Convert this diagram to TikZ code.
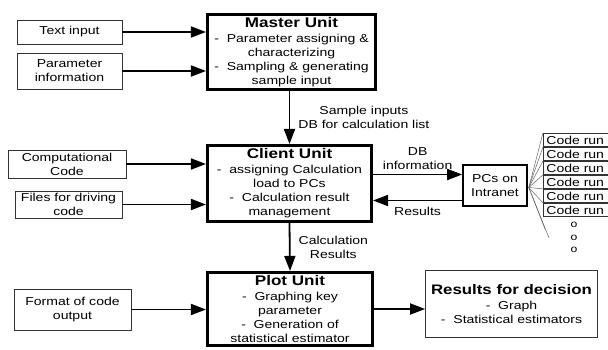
\documentclass[tikz,border=0pt]{standalone}
\usepackage{fontspec}
\setmainfont{Liberation Sans}[FakeStretch=1.22]
\usepackage{tikz}
\usetikzlibrary{arrows.meta}

\newcommand{\utitle}[1]{{\fontsize{14}{14}\selectfont\bfseries #1}}

\begin{document}
\begin{tikzpicture}[x=1pt,y=-1pt,font=\fontsize{11.5}{14}\selectfont]
				\useasboundingbox (0,0) rectangle (608,350);
				% input boxes and small boxes
				\begin{scope}[every node/.style={draw=black!80,line width=0.8pt,align=center,inner sep=1pt}]
					\node[minimum width=105pt,minimum height=24pt] (txtin) at (69.5,32) {Text input};
					\node[minimum width=105pt,minimum height=36pt] (param) at (69.5,71) {Parameter\\information};
					\node[minimum width=118pt,minimum height=28pt] (comp) at (67,164) {Computational\\Code};
					\node[minimum width=107pt,minimum height=27pt] (files) at (68.5,204.5) {Files for driving\\code};
					\node[minimum width=117pt,minimum height=41pt] (fmt) at (72.5,309.5) {Format of code\\output};
					\node[minimum width=172pt,minimum height=67pt] (res) at (511.5,304) {{\fontsize{13.8}{14}\selectfont\bfseries Results for decision}\\[1pt]-\ \ Graph\\-\ \ Statistical estimators};
					\node[draw=black,line width=1.6pt,minimum width=64pt,minimum height=41pt] (pcs) at (495,185.5) {PCs on\\Intranet};
				\end{scope}
				
				% the three units
				\begin{scope}[every node/.style={draw,line width=2.6pt,align=center,inner sep=1pt}]
					\node[minimum width=168.5pt,minimum height=75.5pt] (master) at (291.5,52) {\utitle{Master Unit}\\[1pt]-\ \ Parameter assigning \&\\characterizing\\-\ \ Sampling \& generating\\sample input};
					\node[minimum width=164.5pt,minimum height=76.5pt] (client) at (289.5,183.5) {\utitle{Client Unit}\\[1pt]-\ \ assigning Calculation\\load to PCs\\-\ \ Calculation result\\management};
					\node[minimum width=165.5pt,minimum height=73.5pt] (plot) at (290,309) {\utitle{Plot Unit}\\[1pt]-\ \ Graphing key\\parameter\\-\ \ Generation of\\statistical estimator};
				\end{scope}
				
				% code runs
				\begin{scope}[every node/.style={draw=black!80,line width=0.8pt,anchor=west,inner ysep=0pt,inner xsep=3pt,text width=66pt,align=left,minimum height=13.5pt}]
					\foreach \i in {1,...,6}
						\node (run\i) at (543,126+14*\i) {Code run};
				\end{scope}
				\coordinate (hub) at ([xshift=1pt,yshift=-2pt]pcs.east);
				\coordinate (tail1) at (545,229);
				\coordinate (tail2) at (549,238);
				\foreach \i in {1,...,6}
					\draw[black!60,line width=0.5pt] (hub) -- (run\i.north west);
				\draw[black!60,line width=0.5pt] (hub) -- (tail1);
				\draw[black!60,line width=0.5pt] (hub) -- (tail2);
				\foreach \y [count=\k] in {225,237.5,250}
					\node[font=\fontsize{10}{10}\selectfont,inner sep=0pt] (dot\k) at (574,\y) {o};
				
				\coordinate (dbin) at ([yshift=11pt]pcs.west);
				\coordinate (resout) at ([yshift=-15pt]pcs.west);
				
				% arrows
				\begin{scope}[>={Triangle[length=15pt,width=11pt]},
					every edge/.style={draw,line width=1.8pt}]
					\path [->] (txtin) edge (txtin -| master.west);
					\path [->] (param) edge (param -| master.west);
					\path [->] (comp) edge (comp -| client.west);
					\path [->] (files) edge (files -| client.west);
					\path [->] (fmt) edge (fmt -| plot.west);
					
					\path [->] (master.south -| client.north) edge node[right=7pt,align=center,inner sep=1pt] (lsample) {Sample inputs\\DB for calculation list} (client.north);
					\path [->] (client.south) edge node[right=7pt,align=center,inner sep=1pt] (lcalc) {Calculation\\Results} (plot.north);
					
					\path [->] (dbin -| client.east) edge node[above=3pt,align=center,inner sep=1pt] (ldb) {DB\\information} (dbin);
					\path [->] (resout) edge node[below=5pt,inner sep=1pt] (lres) {Results} (resout -| client.east);
					
					\path [->] (plot) edge (plot -| res.west);
				\end{scope}
			\end{tikzpicture}
\end{document}
